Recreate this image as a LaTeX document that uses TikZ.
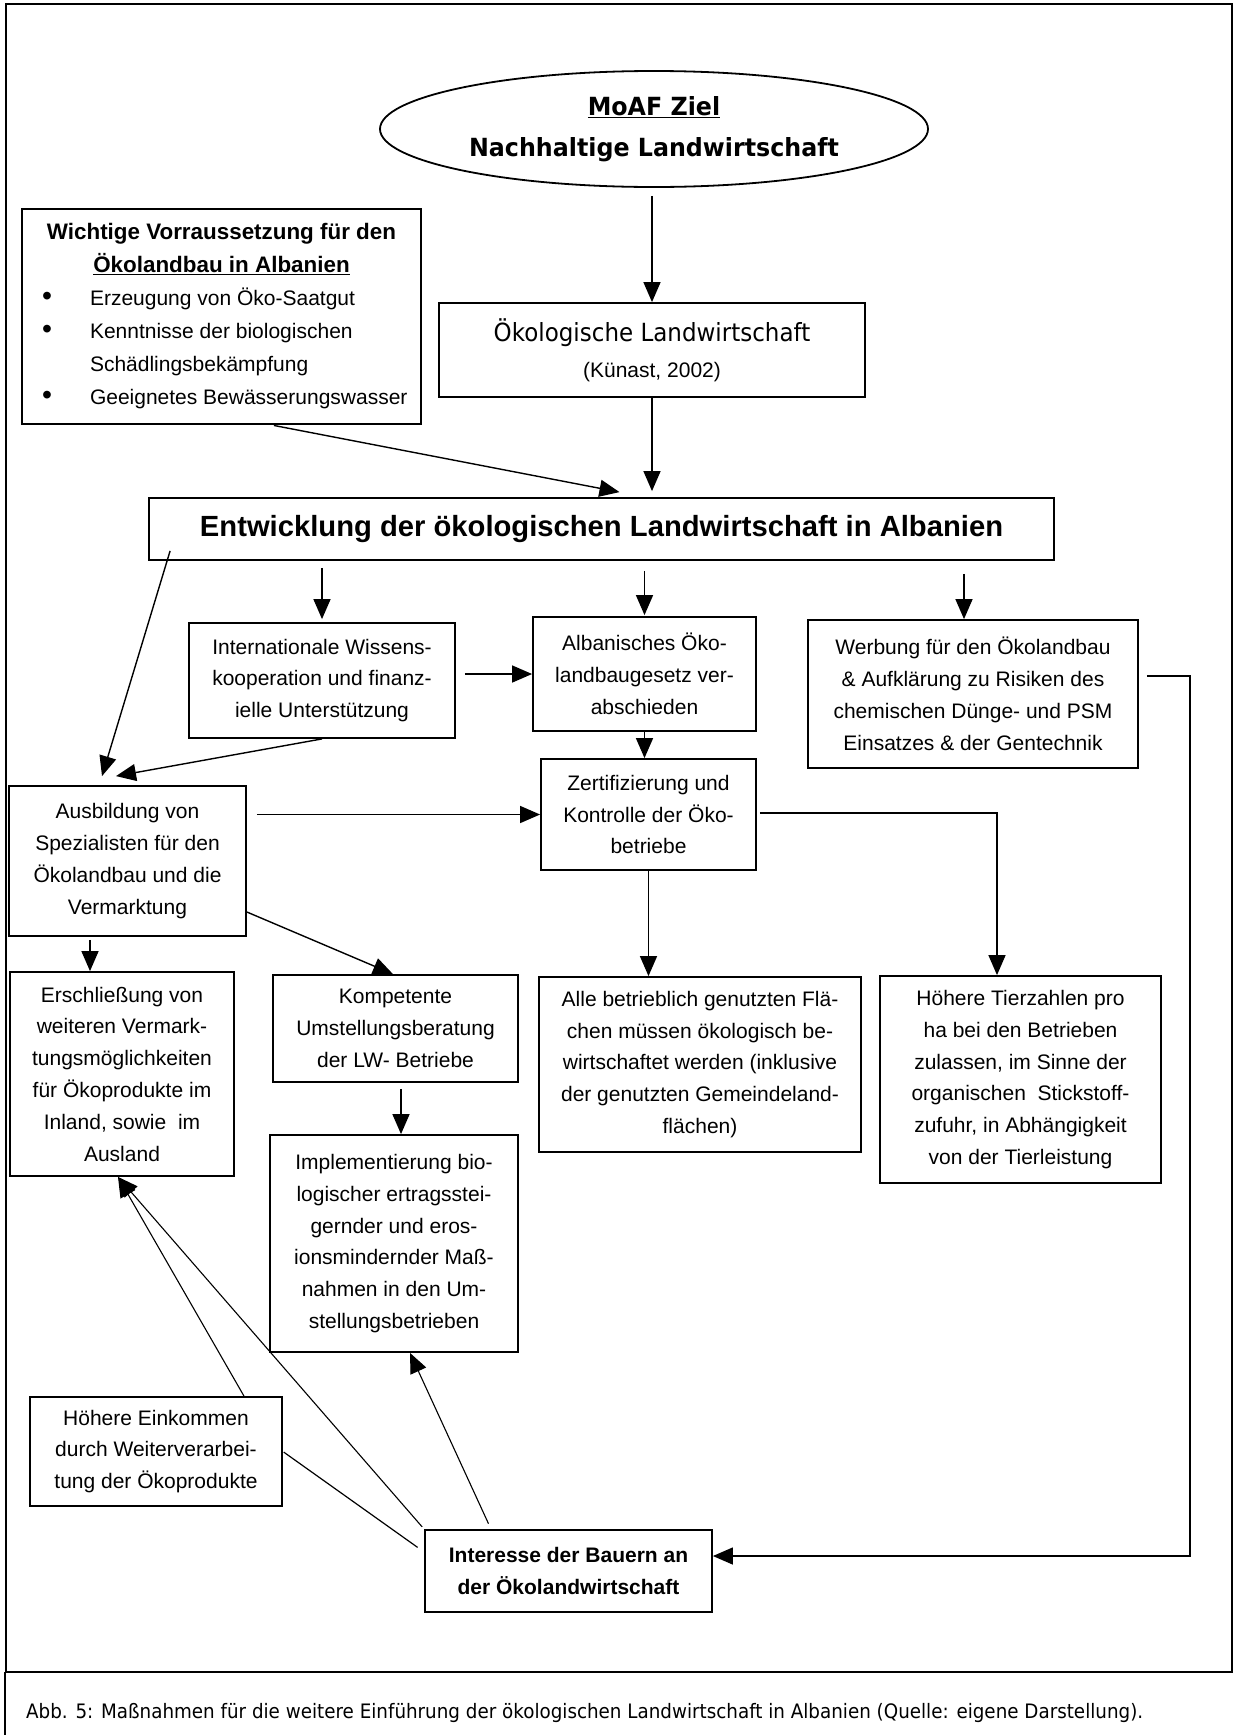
\documentclass[tikz,border=0pt]{standalone}
\usepackage{fontspec}
\setmainfont{Liberation Sans}
\newfontfamily\tahoma{DejaVu Sans}[FakeStretch=0.92]
\newfontfamily\tahomab{DejaVu Sans}[FakeStretch=0.95]
\usetikzlibrary{shapes.geometric,arrows.meta,calc}
\newcommand{\mybul}{\makebox[0pt]{\scalebox{1.35}{\textbullet}}}
\begin{document}
\begin{tikzpicture}[x=1pt,y=-1pt,
  box/.style={draw=black, line width=1.8pt, inner sep=0pt, align=center, font=\fontsize{21}{31.8}\selectfont},
  arr/.style={line width=1.4pt, -{Triangle[length=20pt,width=17pt]}},
  ln/.style={line width=1.2pt},
]
\useasboundingbox (0,0) rectangle (1233,1735);
% frame
\draw[line width=2pt] (6,4) rectangle (1232,1672);
\draw[line width=1.5pt] (5,1672) -- (5,1735);

% nodes
\node[draw, ellipse, line width=1.8pt, minimum width=548pt, minimum height=116pt, inner sep=0pt, align=center,
  font=\tahomab\bfseries\fontsize{25}{41}\selectfont] (ell) at (654,129)
  {\underline{MoAF Ziel}\\Nachhaltige Landwirtschaft};

\node[box, minimum width=426pt, minimum height=94pt] (oek) at (652,350)
  {{\tahoma\fontsize{25}{36}\selectfont Ökologische Landwirtschaft}\\[4pt](Künast, 2002)};

\node[box, minimum width=399pt, minimum height=215pt, align=left] (wicht) at (221.5,316.5)
  {\begin{minipage}{385pt}\fontsize{21}{33}\selectfont
  \centering{\fontsize{22.4}{33}\selectfont\bfseries Wichtige Vorraussetzung für den\\
  \underline{Ökolandbau in Albanien}\par}
  \raggedright
  \hspace*{18pt}\mybul\hspace*{43pt}Erzeugung von Öko-Saatgut\\
  \hspace*{18pt}\mybul\hspace*{43pt}Kenntnisse der biologischen\\
  \hspace*{61pt}Schädlingsbekämpfung\\
  \hspace*{18pt}\mybul\hspace*{43pt}Geeignetes Bewässerungswasser
  \end{minipage}};

\node[box, minimum width=905pt, minimum height=62pt, font=\bfseries\fontsize{29.2}{34}\selectfont] (ent) at (601.5,529)
  {Entwicklung der ökologischen Landwirtschaft in Albanien};

\node[box, minimum width=266pt, minimum height=115pt] (int) at (322,680.5)
  {Internationale Wissens-\\kooperation und finanz-\\ielle Unterstützung};
\node[box, minimum width=223pt, minimum height=114pt] (alb) at (644.5,674)
  {Albanisches Öko-\\landbaugesetz ver-\\abschieden};
\node[box, minimum width=330pt, minimum height=148pt] (werb) at (973,694)
  {Werbung für den Ökolandbau\\\& Aufklärung zu Risiken des\\chemischen Dünge- und PSM\\Einsatzes \& der Gentechnik};
\node[box, minimum width=215pt, minimum height=111pt] (zert) at (648.5,814.5)
  {Zertifizierung und\\Kontrolle der Öko-\\betriebe};
\node[box, minimum width=237pt, minimum height=150pt] (ausb) at (127.5,861)
  {Ausbildung von\\Spezialisten für den\\Ökolandbau und die\\Vermarktung};
\node[box, minimum width=224pt, minimum height=204pt] (ersch) at (122,1074)
  {Erschließung von\\weiteren Vermark-\\tungsmöglichkeiten\\für Ökoprodukte im\\Inland, sowie~ im\\Ausland};
\node[box, minimum width=245pt, minimum height=107pt] (komp) at (395.5,1028.5)
  {Kompetente\\Umstellungsberatung\\der LW- Betriebe};
\node[box, minimum width=248pt, minimum height=217pt] (impl) at (394,1243.5)
  {Implementierung bio-\\logischer ertragsstei-\\gernder und eros-\\ionsmindernder Maß-\\nahmen in den Um-\\stellungsbetrieben};
\node[box, minimum width=322pt, minimum height=175pt] (alle) at (700,1064.5)
  {Alle betrieblich genutzten Flä-\\chen müssen ökologisch be-\\wirtschaftet werden (inklusive\\der genutzten Gemeindeland-\\flächen)};
\node[box, minimum width=281pt, minimum height=207pt] (hoeT) at (1020.5,1079.5)
  {Höhere Tierzahlen pro\\ha bei den Betrieben\\zulassen, im Sinne der\\organischen~ Stickstoff-\\zufuhr, in Abhängigkeit\\von der Tierleistung};
\node[box, minimum width=252pt, minimum height=109pt] (hoeE) at (156,1451.5)
  {Höhere Einkommen\\durch Weiterverarbei-\\tung der Ökoprodukte};
\node[box, minimum width=287pt, minimum height=82pt, font=\bfseries\fontsize{21}{31.8}\selectfont] (inter) at (568.5,1571)
  {Interesse der Bauern an\\der Ökolandwirtschaft};

\node[anchor=west, inner sep=0pt, font=\tahoma\fontsize{19.9}{24}\selectfont] (cap) at (26,1713)
  {Abb. 5: Maßnahmen für die weitere Einführung der ökologischen Landwirtschaft in Albanien (Quelle: eigene Darstellung).};

% connectors
\draw[arr, shorten <=8pt] (ell.south -| oek.north) -- (oek.north);
\draw[arr, shorten >=6pt] (oek.south) -- (oek.south |- ent.north);
\draw[arr, shorten <=3pt] ([xshift=49.5pt]wicht.south) -- ([xshift=18pt,yshift=5pt]ent.north);
\draw[arr, shorten <=7pt, shorten >=3pt] (ent.south -| int.north) -- (int.north);
\draw[arr, shorten <=10pt, shorten >=1pt] (ent.south -| alb.north) -- (alb.north);
\coordinate (wt) at ([xshift=-9pt]werb.north);
\draw[arr, shorten <=13pt] (ent.south -| wt) -- (wt);
\draw[arr] ([xshift=22pt,yshift=10pt]ent.south west) -- ([xshift=-25.5pt,yshift=9pt]ausb.north);
\draw[arr] (int.south) -- ([xshift=-11.5pt,yshift=9pt]ausb.north);
\draw[arr, shorten <=9pt] (int.east |- alb.west) -- (alb.west);
\draw[arr] (alb.south) -- (alb.south |- zert.north);
\draw[arr, shorten <=10pt] (ausb.east |- zert.west) -- (zert.west);
\coordinate (ht) at ([xshift=-23.5pt]hoeT.north);
\draw[arr, shorten <=3pt] ([yshift=1.5pt]zert.east) -| (ht);
\draw[arr] (zert.south) -- (zert.south |- alle.north);
\coordinate (et) at ([xshift=-37.5pt]ausb.south);
\draw[arr, shorten <=3pt] (et) -- (et |- ersch.north);
\draw[arr] ([yshift=-51pt]ausb.east) -- ([xshift=-2.5pt]komp.north);
\coordinate (kt) at ([xshift=5.5pt]komp.south);
\draw[arr, shorten <=6pt] (kt) -- (kt |- impl.north);
\coordinate (eb) at ([xshift=-4pt]ersch.south);
\draw[arr, line width=1.1pt] ([xshift=88pt]hoeE.north) -- (eb);
\draw[arr, line width=1.1pt, shorten <=3pt] (inter.north west) -- (eb);
\draw[ln, shorten <=1pt, shorten >=8pt] (hoeE.east) -- ([yshift=19pt]inter.west);
\draw[arr, line width=1.1pt, shorten <=6pt] ([xshift=-77.5pt]inter.north) -- ([xshift=16pt]impl.south);
\draw[arr, shorten <=8pt] ([yshift=18pt]werb.east) -- ++(51,0) |- ([yshift=15pt]inter.east);
\end{tikzpicture}
\end{document}
